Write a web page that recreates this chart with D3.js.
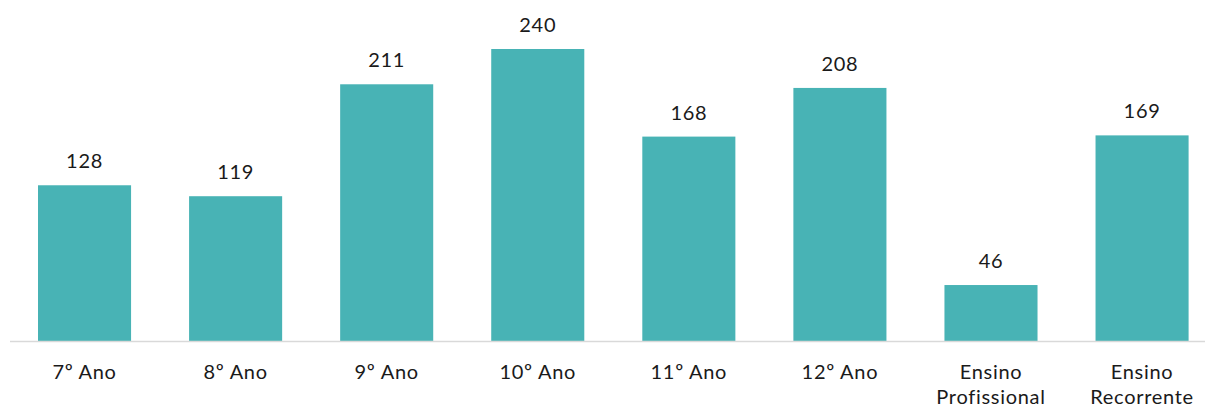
<!DOCTYPE html>
<html><head><meta charset="utf-8">
<script src="https://cdn.jsdelivr.net/npm/d3@7"></script>
<style>body{margin:0;background:#fff;} text{font-family:"Lato","Open Sans",sans-serif;letter-spacing:0.7px;}</style>
</head><body>
<svg id="c" width="1205" height="407"></svg>
<script>
const categories = [["7º Ano"],["8º Ano"],["9º Ano"],["10º Ano"],["11º Ano"],["12º Ano"],["Ensino","Profissional"],["Ensino","Recorrente"]];
const values = [128,119,211,240,168,208,46,169];

const svg = d3.select("#c");
const x = d3.scaleBand().domain(d3.range(categories.length)).range([9, 1217.6]).paddingInner(0.384).paddingOuter(0.192);
const y = d3.scaleLinear().domain([0, 240]).range([341, 49]);

svg.selectAll("rect.bar").data(values).join("rect")
  .attr("class","bar")
  .attr("x",(d,i)=>x(i)).attr("width",x.bandwidth())
  .attr("y",d=>y(d)).attr("height",d=>y(0)-y(d))
  .attr("fill","#48b3b5");

svg.append("line").attr("x1",10).attr("x2",1205).attr("y1",341.5).attr("y2",341.5)
  .attr("stroke","#d9d9d9").attr("stroke-width",1.5);

svg.selectAll("text.val").data(values).join("text")
  .attr("class","val")
  .attr("x",(d,i)=>x(i)+x.bandwidth()/2).attr("y",d=>y(d)-17)
  .attr("text-anchor","middle").attr("font-size",20).attr("fill","#1a1a1a")
  .text(d=>d);

const lab = svg.selectAll("text.cat").data(categories).join("text")
  .attr("class","cat")
  .attr("x",(d,i)=>x(i)+x.bandwidth()/2).attr("y",379)
  .attr("text-anchor","middle").attr("font-size",20).attr("fill","#1a1a1a");
lab.selectAll("tspan").data(d=>d).join("tspan")
  .attr("x",function(){return this.parentNode.getAttribute("x");})
  .attr("dy",(d,i)=>i===0?0:25)
  .text(d=>d);
</script>
</body></html>
